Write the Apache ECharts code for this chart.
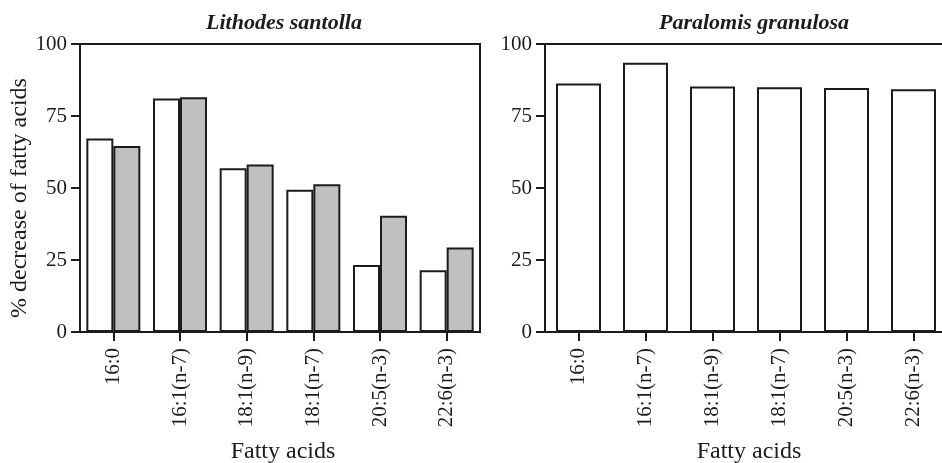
<!DOCTYPE html>
<html>
<head>
<meta charset="utf-8">
<script src="https://cdn.jsdelivr.net/npm/echarts@6/dist/echarts.min.js"></script>
<style>html,body{margin:0;padding:0;background:#fff}#c{width:942px;height:463px}</style>
</head>
<body>
<div id="c"></div>
<script>
const categories = ['16:0','16:1(n-7)','18:1(n-9)','18:1(n-7)','20:5(n-3)','22:6(n-3)'];
const lithodesWhite = [67.2, 81.1, 56.9, 49.4, 23.3, 21.4];
const lithodesGray = [64.6, 81.5, 58.2, 51.3, 40.4, 29.3];
const paralomis = [86.3, 93.5, 85.2, 85.0, 84.7, 84.3];
const yTicks = [0, 25, 50, 75, 100];
const titles = ['Lithodes santolla', 'Paralomis granulosa'];

const FONT = 'Liberation Serif';
const INK = '#1c1c1c';

const chart = echarts.init(document.getElementById('c'), null, {renderer: 'canvas'});

function xAx(gi) {
  return {
    type: 'category', gridIndex: gi, data: categories,
    name: 'Fatty acids', nameLocation: 'middle', nameGap: 108,
    nameTextStyle: {fontFamily: FONT, fontSize: 24, color: INK, padding: [0, 0, 0, 6]},
    axisLine: {show: true, lineStyle: {color: INK, width: 2}},
    axisTick: {show: true, alignWithLabel: true, length: 9, lineStyle: {color: INK, width: 2}},
    axisLabel: {rotate: 90, margin: 16, fontFamily: FONT, fontSize: 21, color: INK, interval: 0},
    splitLine: {show: false}
  };
}
function topAx(gi) {
  return {
    type: 'category', gridIndex: gi, data: categories, position: 'top',
    axisLine: {show: true, lineStyle: {color: INK, width: 2}},
    axisTick: {show: false}, axisLabel: {show: false}, splitLine: {show: false}
  };
}
function yAx(gi, withName) {
  return {
    type: 'value', gridIndex: gi, min: 0, max: 100, interval: 25,
    name: withName ? '% decrease of fatty acids' : '',
    nameLocation: 'middle', nameGap: 46,
    nameTextStyle: {fontFamily: FONT, fontSize: 24, color: INK, padding: [0, 20, 0, 0]},
    axisLine: {show: true, lineStyle: {color: INK, width: 2}},
    axisTick: {show: true, length: 9, lineStyle: {color: INK, width: 2}},
    axisLabel: {margin: 13, fontFamily: FONT, fontSize: 21, color: INK,
      formatter: v => yTicks.includes(v) ? String(v) : ''},
    splitLine: {show: false}
  };
}

chart.setOption({
  animation: false,
  title: [
    {text: titles[0], left: 279, top: 7, textAlign: 'center',
     textStyle: {fontFamily: FONT, fontSize: 22, fontWeight: 'bold', fontStyle: 'italic', color: INK}},
    {text: titles[1], left: 749, top: 7, textAlign: 'center',
     textStyle: {fontFamily: FONT, fontSize: 22, fontWeight: 'bold', fontStyle: 'italic', color: INK}}
  ],
  grid: [
    {left: 80, top: 44, width: 400, height: 288, outerBoundsMode: 'none', containLabel: false,
     show: true, borderColor: INK, borderWidth: 2, backgroundColor: 'transparent'},
    {left: 545, top: 44, width: 402, height: 288, outerBoundsMode: 'none', containLabel: false,
     show: false}
  ],
  xAxis: [xAx(0), xAx(1), topAx(1)],
  yAxis: [yAx(0, true), yAx(1, false)],
  series: [
    {type: 'bar', xAxisIndex: 0, yAxisIndex: 0, data: lithodesWhite, barWidth: 27, barGap: '0%',
     itemStyle: {color: '#ffffff', borderColor: INK, borderWidth: 2}},
    {type: 'bar', xAxisIndex: 0, yAxisIndex: 0, data: lithodesGray, barWidth: 27, barGap: '0%',
     itemStyle: {color: '#c0c0c0', borderColor: INK, borderWidth: 2}},
    {type: 'bar', xAxisIndex: 1, yAxisIndex: 1, data: paralomis, barWidth: 45,
     itemStyle: {color: '#ffffff', borderColor: INK, borderWidth: 2}}
  ]
});
</script>
</body>
</html>
